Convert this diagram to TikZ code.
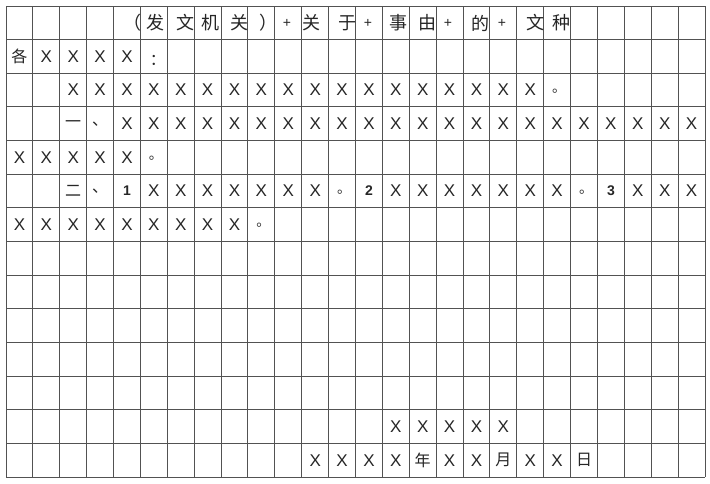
\documentclass[tikz,border=0pt]{standalone}
\usepackage{fontspec}
\setmainfont{Liberation Sans}
\newfontfamily\cjk{Noto Sans CJK SC}
\begin{document}
\begin{tikzpicture}[x=1pt,y=-1pt,
  gridline/.style={draw=black!68,line width=1pt},
  xt/.style={inner sep=0pt,font=\fontsize{17}{17}\selectfont,text=black!85},
  cj/.style={inner sep=0pt,font=\cjk\fontsize{16}{16}\selectfont,text=black!85},
  ttl/.style={inner sep=0pt,font=\cjk\fontsize{18}{18}\selectfont,text=black!85},
  plus/.style={inner sep=0pt,font=\fontsize{14}{14}\selectfont,text=black!85},
  num/.style={inner sep=0pt,font=\bfseries\fontsize{14}{14}\selectfont,text=black!85},
  dot/.style={inner sep=0pt,font=\cjk\fontsize{14}{14}\selectfont,text=black!80}]
\useasboundingbox (0,0) rectangle (710,483);
\fill[white] (0,0) rectangle (710,483);
\def\cw{26.885}
\def\rh{33.643}
% grid
\foreach \i in {0,...,26}{
  \draw[gridline] ({6+\i*\cw},6) -- ({6+\i*\cw},477);
}
\foreach \j in {0,...,14}{
  \draw[gridline] (6,{6+\j*\rh}) -- (705,{6+\j*\rh});
}
\newcommand\cellt[4]{\node[#4] (r#1c#2) at ({6+(#2-0.5)*\cw},{6+(#1-0.5)*\rh}) {#3};}
\newcommand\celld[2]{\node[dot] (r#1c#2) at ({6+(#2-0.5)*\cw+2},{6+(#1-0.5)*\rh+1}) {。};}
% title row
\node[ttl] (t1) at (132,23) {（};
\node[ttl] (t2) at (155,23) {发};
\node[ttl] (t3) at (185,23) {文};
\node[ttl] (t4) at (210,23) {机};
\node[ttl] (t5) at (239,23) {关};
\node[ttl] (t6) at (268,23) {）};
\node[plus] (t7) at (287,23) {+};
\node[ttl] (t8) at (311,23) {关};
\node[ttl] (t9) at (347,23) {于};
\node[plus] (t10) at (368,23) {+};
\node[ttl] (t11) at (398,23) {事};
\node[ttl] (t12) at (427,23) {由};
\node[plus] (t13) at (448,23) {+};
\node[ttl] (t14) at (480,23) {的};
\node[plus] (t15) at (502,23) {+};
\node[ttl] (t16) at (535,23) {文};
\node[ttl] (t17) at (561,23) {种};
% row 2
\cellt{2}{1}{各}{cj}
\foreach \c in {2,...,5}{\cellt{2}{\c}{X}{xt}}
\node[cj] (r2c6) at ({6+5.5*\cw+4},{6+1.5*\rh+4}) {：};
% row 3
\foreach \c in {3,...,20}{\cellt{3}{\c}{X}{xt}}
\celld{3}{21}
% row 4
\cellt{4}{3}{一}{cj}
\cellt{4}{4}{、}{cj}
\foreach \c in {5,...,26}{\cellt{4}{\c}{X}{xt}}
% row 5
\foreach \c in {1,...,5}{\cellt{5}{\c}{X}{xt}}
\celld{5}{6}
% row 6
\cellt{6}{3}{二}{cj}
\cellt{6}{4}{、}{cj}
\cellt{6}{5}{1}{num}
\foreach \c in {6,...,12}{\cellt{6}{\c}{X}{xt}}
\celld{6}{13}
\cellt{6}{14}{2}{num}
\foreach \c in {15,...,21}{\cellt{6}{\c}{X}{xt}}
\celld{6}{22}
\cellt{6}{23}{3}{num}
\foreach \c in {24,...,26}{\cellt{6}{\c}{X}{xt}}
% row 7
\foreach \c in {1,...,9}{\cellt{7}{\c}{X}{xt}}
\celld{7}{10}
% row 13
\foreach \c in {15,...,19}{\cellt{13}{\c}{X}{xt}}
% row 14
\foreach \c in {12,...,15}{\cellt{14}{\c}{X}{xt}}
\cellt{14}{16}{年}{cj}
\foreach \c in {17,18}{\cellt{14}{\c}{X}{xt}}
\cellt{14}{19}{月}{cj}
\foreach \c in {20,21}{\cellt{14}{\c}{X}{xt}}
\cellt{14}{22}{日}{cj}
\end{tikzpicture}
\end{document}
